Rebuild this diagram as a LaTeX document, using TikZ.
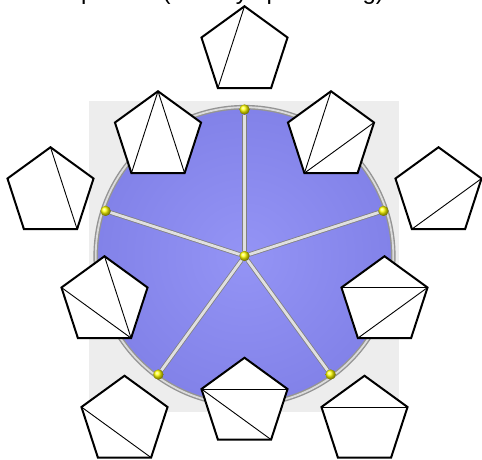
\documentclass[tikz,border=0pt]{standalone}
\usepackage{fontspec}
\setmainfont{Liberation Sans}
\usetikzlibrary{shapes.geometric}
\definecolor{bgray}{HTML}{EDEDED}
\definecolor{discin}{RGB}{148,148,245}
\definecolor{discout}{RGB}{112,112,220}
\pgfdeclareradialshading{disc}{\pgfpoint{0bp}{0bp}}{color(0bp)=(discin); color(50bp)=(discout)}
\begin{document}
\begin{tikzpicture}[x=1pt,y=-1pt,
  pent/.style={regular polygon, regular polygon sides=5, minimum size=90.5pt,
    inner sep=0pt, outer sep=0pt, draw=black, line width=2pt, fill=white},
  diag/.style={line width=0.9pt},
  ball/.style={circle, inner sep=0pt, minimum size=10pt, shade, ball color=yellow},
  spoke/.style={draw=black!50, line width=0.8pt, double=black!12, double distance=2.8pt}]
\useasboundingbox (0,0) rectangle (482,459);
% clipped title
\begin{scope}
\clip (0,0) rectangle (482,459);
\node[anchor=base west, inner sep=0pt, font=\fontsize{24}{28}\selectfont] (title) at (81,-0.5) {pattern (dual by split sorting)};
\end{scope}
% background
\fill[bgray] (89,101) rectangle (399,412);
% disc
\coordinate (c) at (244.5,256);
\shade[shading=disc] (c) circle (147);
\draw[black!42, line width=4.6pt] (c) circle (148.8);
\draw[black!14, line width=1.8pt] (c) circle (148.8);
% dots
\node[ball] (m) at (c) {};
\node[ball] (d90) at (244.5,109.5) {};
\node[ball] (d18) at (383.4,210.9) {};
\node[ball] (d162) at (105.6,210.9) {};
\node[ball] (dm54) at (330.6,374.5) {};
\node[ball] (d234) at (158.4,374.5) {};
\foreach \d in {d90,d18,d162,dm54,d234} \draw[spoke] (m) -- (\d);
\foreach \d in {m,d90,d18,d162,dm54,d234} \node[ball] at (\d) {};
% pentagons: corner 1 top, 2 upper-left, 3 lower-left, 4 lower-right, 5 upper-right
\node[pent] (o90) at (244.5,51.5) {};
\node[pent] (o18) at (438.5,192.5) {};
\node[pent] (o162) at (50.5,192.5) {};
\node[pent] (om54) at (364.5,421) {};
\node[pent] (o234) at (124.5,421) {};
\node[pent] (i126) at (158,136.5) {};
\node[pent] (i54) at (331,136.5) {};
\node[pent] (i198) at (104.5,301.5) {};
\node[pent] (i342) at (384.5,301.5) {};
\node[pent] (i270) at (244.5,403) {};
\draw[diag] (o90.corner 1) -- (o90.corner 3);
\draw[diag] (o18.corner 5) -- (o18.corner 3);
\draw[diag] (o162.corner 1) -- (o162.corner 4);
\draw[diag] (om54.corner 2) -- (om54.corner 5);
\draw[diag] (o234.corner 2) -- (o234.corner 4);
\draw[diag] (i126.corner 1) -- (i126.corner 3);
\draw[diag] (i126.corner 1) -- (i126.corner 4);
\draw[diag] (i54.corner 1) -- (i54.corner 3);
\draw[diag] (i54.corner 5) -- (i54.corner 3);
\draw[diag] (i198.corner 4) -- (i198.corner 1);
\draw[diag] (i198.corner 4) -- (i198.corner 2);
\draw[diag] (i342.corner 2) -- (i342.corner 5);
\draw[diag] (i342.corner 5) -- (i342.corner 3);
\draw[diag] (i270.corner 2) -- (i270.corner 5);
\draw[diag] (i270.corner 2) -- (i270.corner 4);
\end{tikzpicture}
\end{document}
